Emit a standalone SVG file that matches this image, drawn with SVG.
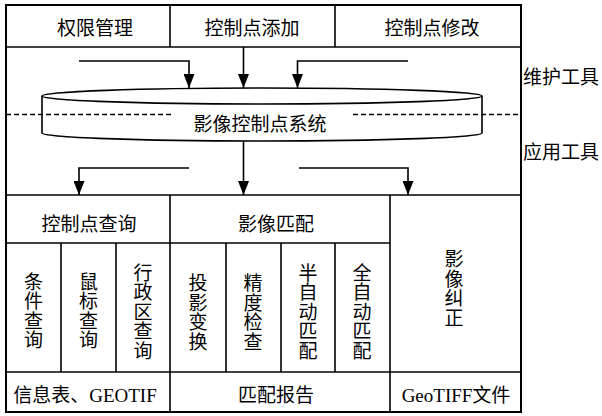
<svg xmlns="http://www.w3.org/2000/svg" width="602" height="416" viewBox="0 0 602 416">
<defs>
<style>
.ln{fill:none;stroke:#000;stroke-width:1.6}
.ob{fill:none;stroke:#000;stroke-width:2}
.dash{fill:none;stroke:#000;stroke-width:1.4;stroke-dasharray:5,3}
.t{font-family:"Liberation Serif","Noto Sans CJK SC",serif;font-size:19px;fill:#000}
.c{text-anchor:middle}
.ar{fill:none;stroke:#000;stroke-width:1.6;marker-end:url(#ah)}
</style>
<marker id="ah" markerUnits="userSpaceOnUse" markerWidth="14" markerHeight="11" refX="14" refY="5.5" orient="auto">
<path d="M0,0 L14,5.5 L0,11 z" fill="#000"/>
</marker>
</defs>
<rect x="0" y="0" width="602" height="416" fill="#fff"/>

<g id="frame">
<rect class="ob" x="6" y="5" width="515" height="407"/>
<line class="ln" x1="6" y1="47" x2="521" y2="47"/>
<line class="ln" x1="6" y1="195" x2="521" y2="195"/>
<line class="ln" x1="6" y1="243" x2="390" y2="243"/>
<line class="ln" x1="6" y1="372" x2="521" y2="372"/>
<line class="dash" x1="6" y1="114.5" x2="172" y2="114.5"/>
<line class="dash" x1="353" y1="114.5" x2="521" y2="114.5"/>
</g>

<g id="n-quanxian"><line class="ln" x1="170" y1="5" x2="170" y2="47"/><text class="t c" x="95" y="35">权限管理</text></g>
<g id="n-tianjia"><line class="ln" x1="335" y1="5" x2="335" y2="47"/><text class="t c" x="252" y="35">控制点添加</text></g>
<g id="n-xiugai"><text class="t c" x="432" y="35">控制点修改</text></g>

<g id="n-system">
<path class="ln" fill="#fff" d="M42,96 L42,133 A220,8 0 0 0 482,133 L482,96"/>
<ellipse class="ln" cx="262" cy="96" rx="220" ry="8"/>
<text class="t c" x="260" y="131">影像控制点系统</text>
</g>

<g id="n-labels">
<text class="t" x="523" y="83.5">维护工具</text>
<text class="t" x="523" y="158.5">应用工具</text>
</g>

<g id="n-query">
<line class="ln" x1="170" y1="195" x2="170" y2="412"/>
<text class="t c" x="89" y="230.5">控制点查询</text>
</g>
<g id="n-match">
<line class="ln" x1="390" y1="195" x2="390" y2="412"/>
<text class="t c" x="276" y="230.5">影像匹配</text>
</g>

<g id="n-tiaojian"><line class="ln" x1="61" y1="243" x2="61" y2="372"/>
<text class="t c"><tspan x="33.5" y="288.8">条</tspan><tspan x="33.5" y="308.3">件</tspan><tspan x="33.5" y="327.8">查</tspan><tspan x="33.5" y="347.3">询</tspan></text></g>
<g id="n-shubiao"><line class="ln" x1="116" y1="243" x2="116" y2="372"/>
<text class="t c"><tspan x="88.5" y="288.8">鼠</tspan><tspan x="88.5" y="308.3">标</tspan><tspan x="88.5" y="327.8">查</tspan><tspan x="88.5" y="347.3">询</tspan></text></g>
<g id="n-xingzheng">
<text class="t c"><tspan x="143" y="279.5">行</tspan><tspan x="143" y="299">政</tspan><tspan x="143" y="318.5">区</tspan><tspan x="143" y="338">查</tspan><tspan x="143" y="357.5">询</tspan></text></g>
<g id="n-touying"><line class="ln" x1="226" y1="243" x2="226" y2="372"/>
<text class="t c"><tspan x="198" y="290">投</tspan><tspan x="198" y="309.5">影</tspan><tspan x="198" y="329">变</tspan><tspan x="198" y="348.5">换</tspan></text></g>
<g id="n-jingdu"><line class="ln" x1="281" y1="243" x2="281" y2="372"/>
<text class="t c"><tspan x="253" y="290">精</tspan><tspan x="253" y="309.5">度</tspan><tspan x="253" y="329">检</tspan><tspan x="253" y="348.5">查</tspan></text></g>
<g id="n-banzidong"><line class="ln" x1="335" y1="243" x2="335" y2="372"/>
<text class="t c"><tspan x="308" y="279.5">半</tspan><tspan x="308" y="299">自</tspan><tspan x="308" y="318.5">动</tspan><tspan x="308" y="338">匹</tspan><tspan x="308" y="357.5">配</tspan></text></g>
<g id="n-quanzidong">
<text class="t c"><tspan x="362" y="279.5">全</tspan><tspan x="362" y="299">自</tspan><tspan x="362" y="318.5">动</tspan><tspan x="362" y="338">匹</tspan><tspan x="362" y="357.5">配</tspan></text></g>
<g id="n-jiuzheng">
<text class="t c"><tspan x="454" y="266.3">影</tspan><tspan x="454" y="285.8">像</tspan><tspan x="454" y="305.3">纠</tspan><tspan x="454" y="324.8">正</tspan></text></g>

<g id="n-out1"><text class="t c" x="85" y="402">信息表、GEOTIF</text></g>
<g id="n-out2"><text class="t c" x="276" y="402">匹配报告</text></g>
<g id="n-out3"><text class="t c" x="456" y="402">GeoTIFF文件</text></g>

<g id="connectors">
<path class="ar" d="M79,61 L189,61 L189,88"/>
<path class="ar" d="M243.5,47 L243.5,88"/>
<path class="ar" d="M408,61 L297.5,61 L297.5,88"/>
<path class="ar" d="M243.5,141 L243.5,195"/>
<path class="ar" d="M189,168 L79,168 L79,195"/>
<path class="ar" d="M299,168 L408,168 L408,195"/>
</g>
</svg>
